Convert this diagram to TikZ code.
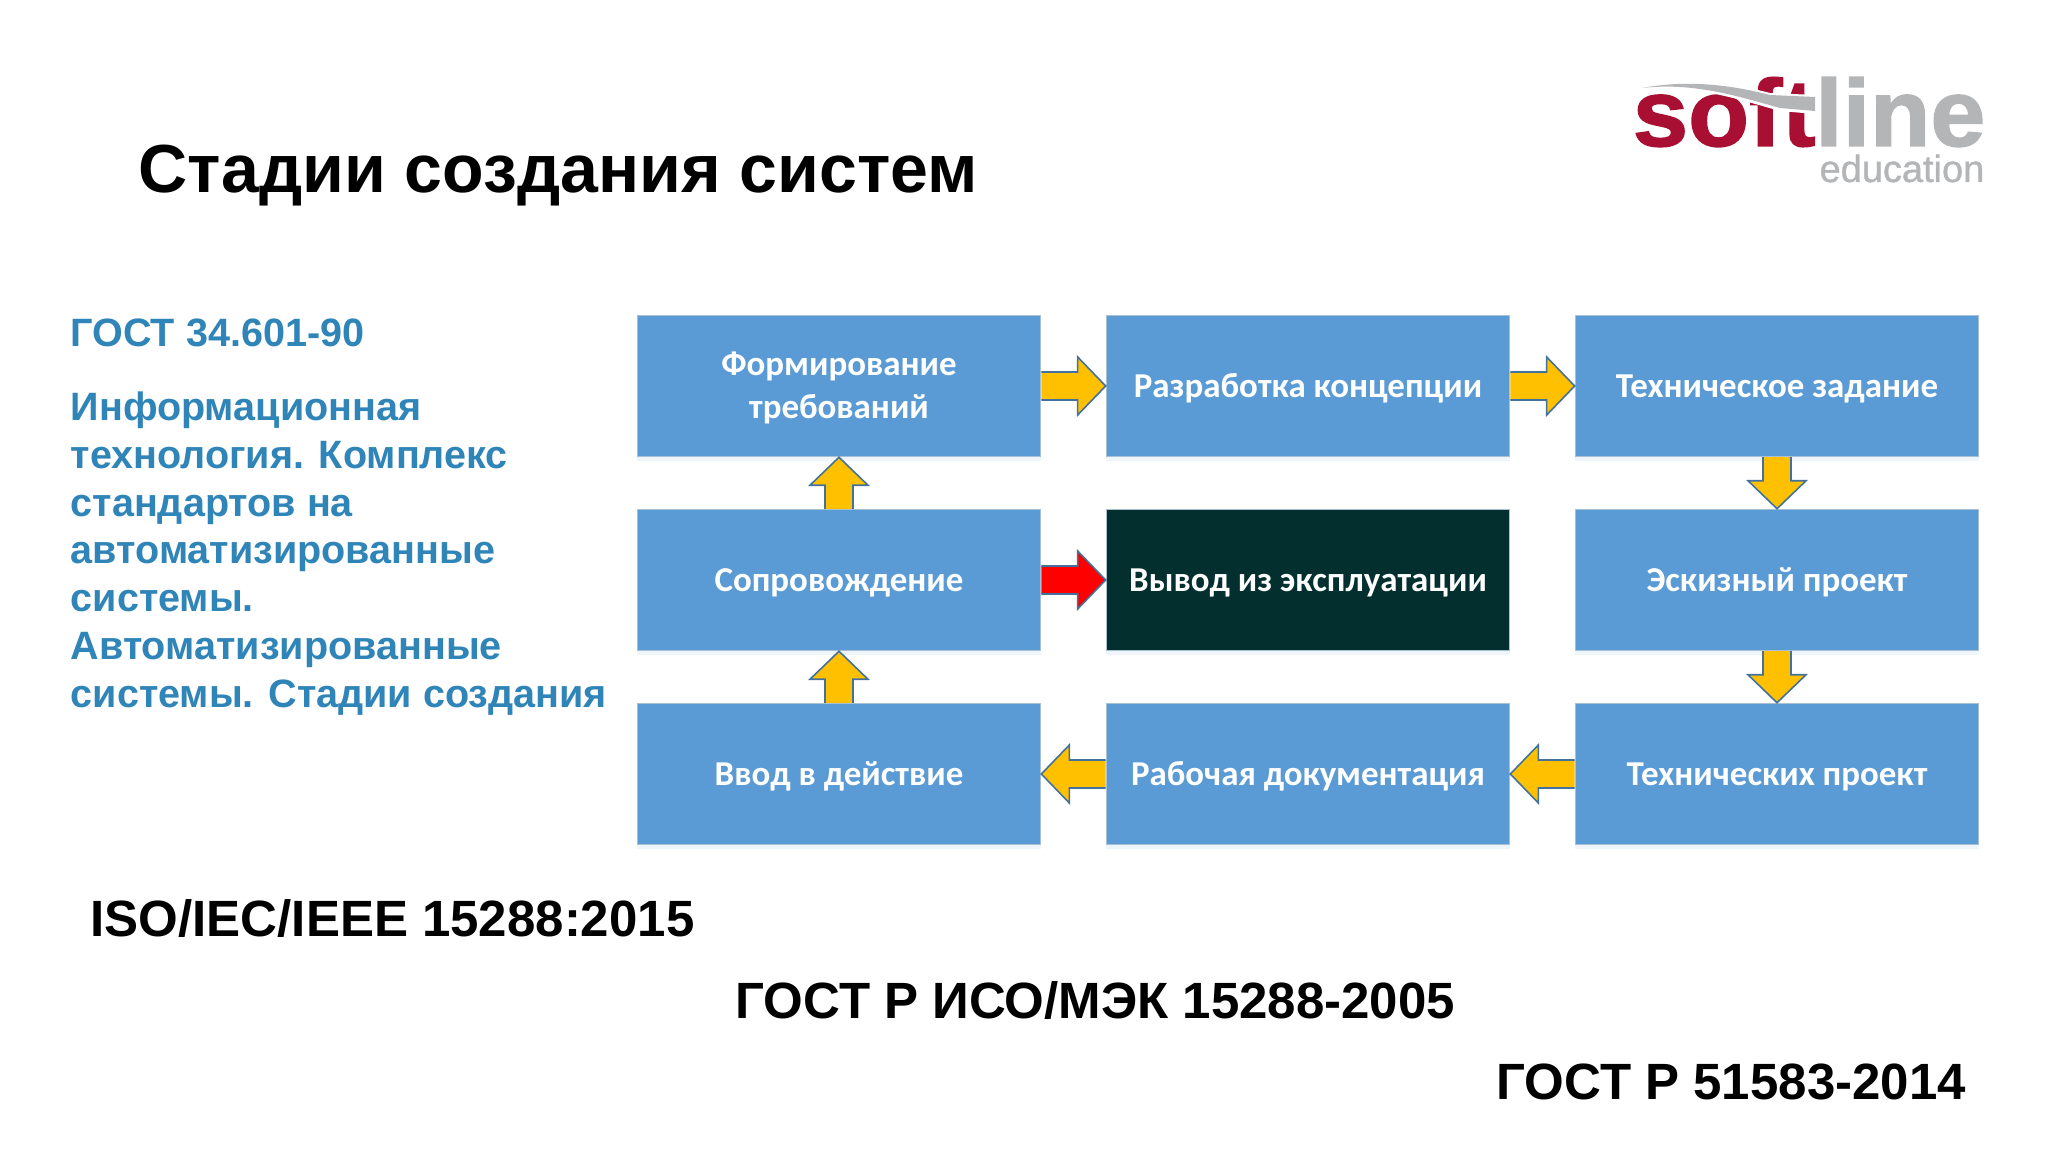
\documentclass[tikz,border=0pt]{standalone}
\usepackage{fontspec}
\setmainfont{Liberation Sans}
\newfontfamily\boxfont{Carlito}
\newfontfamily\logofont[FakeBold=1.5]{Liberation Sans Bold}
\newfontfamily\edufont[FakeBold=1]{Liberation Sans}
\usetikzlibrary{calc,shadows}
\definecolor{boxblue}{HTML}{5B9BD5}
\definecolor{boxedge}{HTML}{A9BFD3}
\definecolor{boxdark}{HTML}{03302F}
\definecolor{amber}{HTML}{FFC000}
\definecolor{arrowedge}{HTML}{41719C}
\definecolor{gosttext}{HTML}{2F84B8}
\definecolor{logored}{HTML}{A90F32}
\definecolor{logogray}{HTML}{B4B5B7}
\tikzset{
    stage/.style={draw=boxedge, line width=0.4pt, fill=boxblue, text=white,
        minimum width=4.03cm, minimum height=1.41cm, align=center, inner sep=0pt,
        font=\boxfont\bfseries\fontsize{9.93}{12.2}\selectfont,
        text height=8.6pt, text depth=2.2pt,
        drop shadow={opacity=0.1, fill=boxblue, shadow xshift=0pt, shadow yshift=-0.04cm}},
    stagetwo/.style={stage, text height=20.5pt, text depth=2.1pt},
    stagedark/.style={stage, fill=boxdark},
    arrowline/.style={draw=arrowedge, line width=0.45pt, line join=miter},
    gost/.style={anchor=west, inner sep=0pt, font=\bfseries\fontsize{14.5}{16}\selectfont},
    leftnote/.style={anchor=north west, inner sep=0pt, align=left, text=gosttext, font=\bfseries\fontsize{11.25}{13.6}\selectfont},
}
% block arrow: tail, tip, fill
\newcommand{\blockarrow}[3]{
    \coordinate (hb) at ($(#2)!0.28cm!(#1)$);
    \draw[arrowline, fill=#3] ($(#1)!0.14cm!90:(#2)$) -- ($(hb)!0.14cm!-90:(#1)$)
        -- ($(hb)!0.29cm!-90:(#1)$) -- (#2) -- ($(hb)!0.29cm!90:(#1)$)
        -- ($(hb)!0.14cm!90:(#1)$) -- ($(#1)!0.14cm!-90:(#2)$);
}
\begin{document}
\begin{tikzpicture}[x=0.01cm, y=-0.01cm]
    \useasboundingbox (0,0) rectangle (2048,1152);

    % title
    \node[anchor=west, inner sep=0pt, font=\bfseries\fontsize{19.35}{21}\selectfont] (title) at (138,176) {Стадии создания систем};

    % logo
    \node[anchor=base west, inner sep=0pt, text=logored, xscale=1.05, font=\logofont\fontsize{27}{27}\selectfont] (logosoft) at (1632,146) {soft};
    \node[anchor=base east, inner sep=0pt, text=logogray, xscale=1.04, font=\logofont\fontsize{27}{27}\selectfont] (logoline) at (1986,146) {line};
    \fill[white] (1642,86) .. controls (1690,76) and (1735,84) .. (1770,93) -- (1815,95) -- (1815,114) -- (1780,111) .. controls (1740,100) and (1695,84) .. (1642,90) -- cycle;
    \fill[logogray] (1642,88) .. controls (1690,79) and (1735,86) .. (1770,95) -- (1815,97) -- (1815,111) -- (1780,108) .. controls (1740,97) and (1695,82) .. (1642,88) -- cycle;
    \node[anchor=base east, inner sep=0pt, text=logogray, font=\edufont\fontsize{10.8}{12}\selectfont] (logoedu) at (1985,182) {education};

    % left text
    \node[leftnote] (gostnum) at (70,318) {ГОСТ 34.601-90};
    \node[leftnote] (gostname) at (70,391) {Информационная\\технология. Комплекс\\стандартов на\\автоматизированные\\системы.\\Автоматизированные\\системы. Стадии создания};

    % stages
    \node[stagetwo] (form) at (839,386) {Формирование\\требований};
    \node[stage] (conc) at (1308,386) {Разработка концепции};
    \node[stage] (task) at (1777,386) {Техническое задание};
    \node[stage] (supp) at (839,580) {Сопровождение};
    \node[stagedark] (retire) at (1308,580) {Вывод из эксплуатации};
    \node[stage] (sketch) at (1777,580) {Эскизный проект};
    \node[stage] (start) at (839,774) {Ввод в действие};
    \node[stage] (docs) at (1308,774) {Рабочая документация};
    \node[stage] (tech) at (1777,774) {Технических проект};

    % arrows
    \blockarrow{form.east}{conc.west}{amber}
    \blockarrow{conc.east}{task.west}{amber}
    \blockarrow{task.south}{sketch.north}{amber}
    \blockarrow{sketch.south}{tech.north}{amber}
    \blockarrow{tech.west}{docs.east}{amber}
    \blockarrow{docs.west}{start.east}{amber}
    \blockarrow{start.north}{supp.south}{amber}
    \blockarrow{supp.north}{form.south}{amber}
    \blockarrow{supp.east}{retire.west}{red}

    % standards
    \node[gost] (iso) at (90,919) {ISO/IEC/IEEE 15288:2015};
    \node[gost] (gostiso) at (735,1001) {ГОСТ Р ИСО/МЭК 15288-2005};
    \node[gost] (gostr) at (1496,1082) {ГОСТ Р 51583-2014};
\end{tikzpicture}
\end{document}
